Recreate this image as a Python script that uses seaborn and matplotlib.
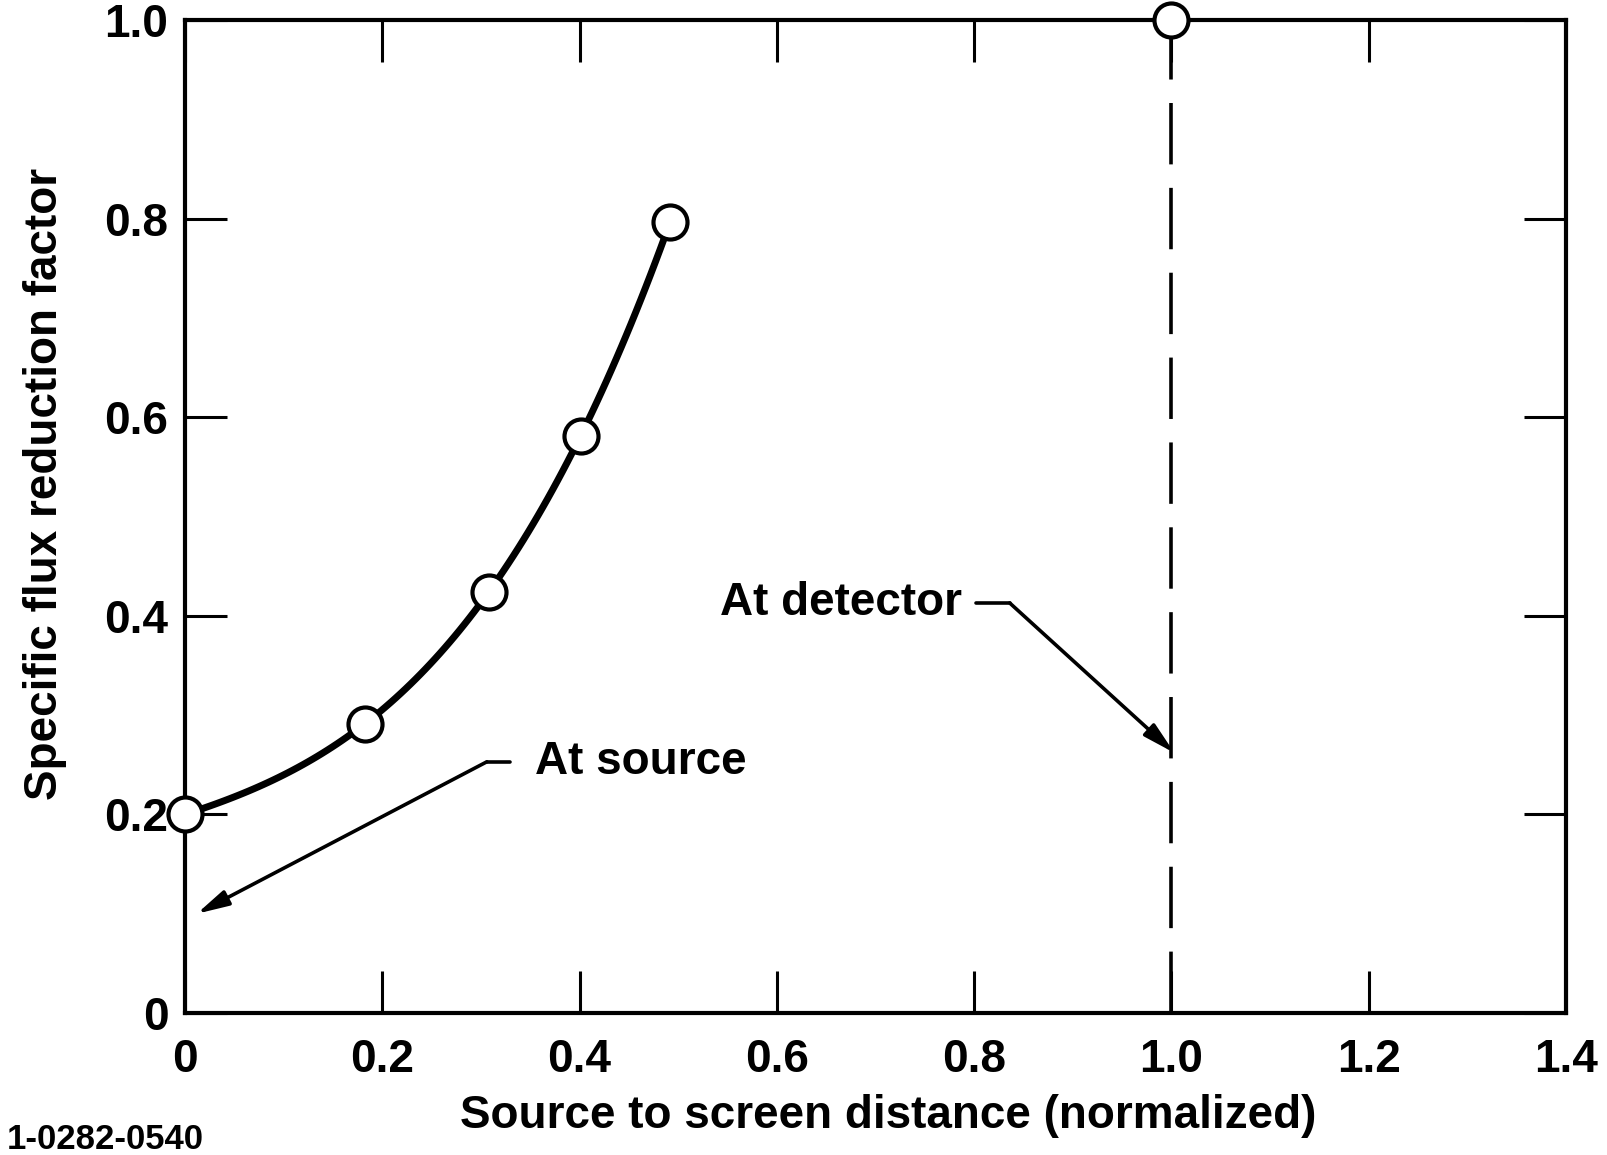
import matplotlib
matplotlib.use("Agg")
import matplotlib.pyplot as plt
import seaborn as sns
import pandas as pd

# ---- data ----
distance = [0.0, 0.182, 0.308, 0.401, 0.492]
reduction = [0.200, 0.291, 0.424, 0.581, 0.797]
detector_x = [1.0]
detector_y = [1.0]
detector_line_x = [1.0, 1.0]
detector_line_y = [0.0, 1.0]
x_ticks = [0.0, 0.2, 0.4, 0.6, 0.8, 1.0, 1.2, 1.4]
x_tick_labels = ["0", "0.2", "0.4", "0.6", "0.8", "1.0", "1.2", "1.4"]
y_ticks = [0.0, 0.2, 0.4, 0.6, 0.8, 1.0]
y_tick_labels = ["0", "0.2", "0.4", "0.6", "0.8", "1.0"]
x_label = "Source to screen distance (normalized)"
y_label = "Specific flux reduction factor"
fig_id = "1-0282-0540"
ann_detector = "At detector"
ann_source = "At source"

sns.set_theme(style="white")
plt.rcParams["font.family"] = ["Liberation Sans", "DejaVu Sans"]
plt.rcParams["font.weight"] = "bold"
plt.rcParams["text.color"] = "black"
plt.rcParams["axes.labelcolor"] = "black"

df = pd.DataFrame({"d": distance, "r": reduction})

fig = plt.figure(figsize=(16.07, 11.55), dpi=100)
ax = fig.add_axes([0.1151, 0.1229, 0.8594, 0.8598])

# dashed detector line
sns.lineplot(x=detector_line_x, y=detector_line_y, estimator=None, ax=ax,
             color="black", lw=2.6, dashes=False, zorder=2)
ax.lines[-1].set_dashes((17, 6.5))

# smooth curve
sns.regplot(data=df, x="d", y="r", order=3, ci=None, scatter=False, ax=ax,
            truncate=True, line_kws=dict(color="black", lw=5, zorder=3))

# markers
sns.scatterplot(data=df, x="d", y="r", ax=ax, s=600, color="white",
                edgecolor="black", linewidth=3, zorder=5, clip_on=False)
sns.scatterplot(x=detector_x, y=detector_y, ax=ax, s=600, color="white",
                edgecolor="black", linewidth=3, zorder=5, clip_on=False)

ax.set_xlim(0, 1.4)
ax.set_ylim(0, 1.0)
ax.set_xticks(x_ticks)
ax.set_xticklabels(x_tick_labels)
ax.set_yticks(y_ticks)
ax.set_yticklabels(y_tick_labels)
ax.tick_params(direction="in", length=30, width=2.2, top=True, right=True,
               bottom=True, left=True, labelsize=33, colors="black")
ax.tick_params(axis="x", pad=18)
ax.tick_params(axis="y", pad=12)
for lab in ax.get_xticklabels() + ax.get_yticklabels():
    lab.set_fontweight("bold")
for sp in ax.spines.values():
    sp.set_visible(True)
    sp.set_color("black")
    sp.set_linewidth(3)

ax.set_xlabel(x_label, fontsize=33, fontweight="bold", color="black", va="center")
ax.set_ylabel(y_label, fontsize=33, fontweight="bold", color="black", va="center")
ax.xaxis.set_label_coords(0.509, -0.104)
ax.yaxis.set_label_coords(-0.101, 0.533)

# annotations
ax.annotate("", xy=(1.003, 0.262), xytext=(0.836, 0.413),
            arrowprops=dict(arrowstyle="-|>,head_length=1.6,head_width=0.4",
                            color="black", lw=2.6, shrinkA=0, shrinkB=0))
ax.plot([0.802, 0.836], [0.413, 0.413], color="black", lw=2.6)
ax.text(0.788, 0.413, ann_detector, fontsize=33, fontweight="bold",
        ha="right", va="center", color="black")

ax.annotate("", xy=(0.012, 0.100), xytext=(0.306, 0.253),
            arrowprops=dict(arrowstyle="-|>,head_length=1.6,head_width=0.4",
                            color="black", lw=2.6, shrinkA=0, shrinkB=0))
ax.plot([0.306, 0.329], [0.253, 0.253], color="black", lw=2.6)
ax.text(0.355, 0.253, ann_source, fontsize=33, fontweight="bold",
        ha="left", va="center", color="black")

fig.text(0.004, 0.013, fig_id, fontsize=25, fontweight="bold", ha="left",
         va="center", color="black")

fig.savefig("out.png", dpi=100, facecolor="white")
